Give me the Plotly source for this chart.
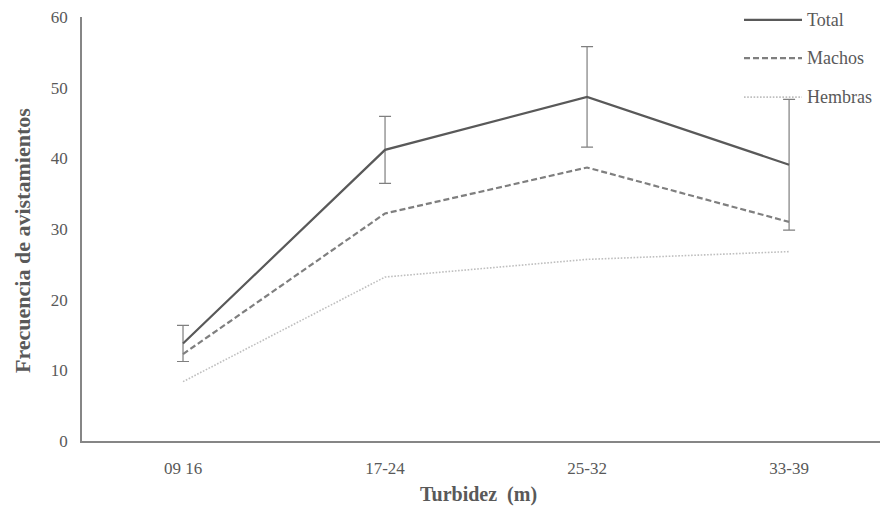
import plotly.graph_objects as go

# Sightings frequency by turbidity class
categories = ["09 16", "17-24", "25-32", "33-39"]
series_names = ["Total", "Machos", "Hembras"]
total = [13.8, 41.2, 48.7, 39.1]
total_err = [2.55, 4.75, 7.1, 9.25]
machos = [12.3, 32.2, 38.7, 31.0]
hembras = [8.4, 23.2, 25.7, 26.8]
y_ticks = [0, 10, 20, 30, 40, 50, 60]

SERIF = "Liberation Serif, Times New Roman, serif"
TEXT_GREY = "#595959"
AXIS_GREY = "#868686"

styles = {
    "Total": dict(color="#595959", width=2.2, dash="solid"),
    "Machos": dict(color="#7f7f7f", width=2.2, dash="6px,3px"),
    "Hembras": dict(color="#bfbfbf", width=1.6, dash="1.6px,1.6px"),
}

x_idx = list(range(len(categories)))

fig = go.Figure()
fig.add_trace(go.Scatter(
    x=x_idx, y=hembras, mode="lines", name="Hembras",
    line=styles["Hembras"], showlegend=False,
))
fig.add_trace(go.Scatter(
    x=x_idx, y=machos, mode="lines", name="Machos",
    line=styles["Machos"], showlegend=False,
))
fig.add_trace(go.Scatter(
    x=x_idx, y=total, mode="lines", name="Total",
    line=styles["Total"], showlegend=False,
    error_y=dict(type="data", array=total_err, visible=True,
                 color="#7f7f7f", thickness=1.2, width=6),
))

# Hand-drawn legend in the upper right corner
legend_y = [0.993, 0.903, 0.811]
for name, ly in zip(series_names, legend_y):
    st = styles[name]
    fig.add_shape(type="line", xref="paper", yref="paper",
                  x0=(744 - 82) / 798, x1=(802 - 82) / 798, y0=ly, y1=ly,
                  line=dict(color=st["color"], width=st["width"], dash=st["dash"]))
    fig.add_annotation(text=name, xref="paper", yref="paper",
                       x=(805 - 82) / 798, y=ly, xanchor="left", yanchor="middle",
                       showarrow=False, font=dict(family=SERIF, size=18, color=TEXT_GREY))

# Axis titles
fig.add_annotation(text="Frecuencia de avistamientos", xref="paper", yref="paper",
                   x=(22 - 82) / 798, y=(441 - 241) / 424, textangle=-90, showarrow=False,
                   xanchor="center", yanchor="middle",
                   font=dict(family=SERIF, size=22, color=TEXT_GREY, weight="bold"))
fig.add_annotation(text="Turbidez  (m)", xref="paper", yref="paper",
                   x=(478 - 82) / 798, y=-(494 - 441) / 424, showarrow=False,
                   xanchor="center", yanchor="middle",
                   font=dict(family=SERIF, size=20, color=TEXT_GREY, weight="bold"))

fig.update_layout(
    width=880, height=510,
    margin=dict(l=82, r=0, t=17, b=69),
    plot_bgcolor="white", paper_bgcolor="white",
    xaxis=dict(
        range=[-0.5, 3.45], tickmode="array", tickvals=x_idx, ticktext=categories,
        showgrid=False, zeroline=False, showline=True, linecolor=AXIS_GREY, linewidth=1.5,
        ticks="outside", ticklen=11, tickcolor="rgba(0,0,0,0)",
        tickfont=dict(family=SERIF, size=17, color=TEXT_GREY),
    ),
    yaxis=dict(
        range=[0, 60], tickmode="array", tickvals=y_ticks,
        showgrid=False, zeroline=False, showline=True, linecolor=AXIS_GREY, linewidth=1.5,
        ticks="outside", ticklen=9, tickcolor="rgba(0,0,0,0)",
        tickfont=dict(family=SERIF, size=17, color=TEXT_GREY),
    ),
)

fig.write_html("out.html")
